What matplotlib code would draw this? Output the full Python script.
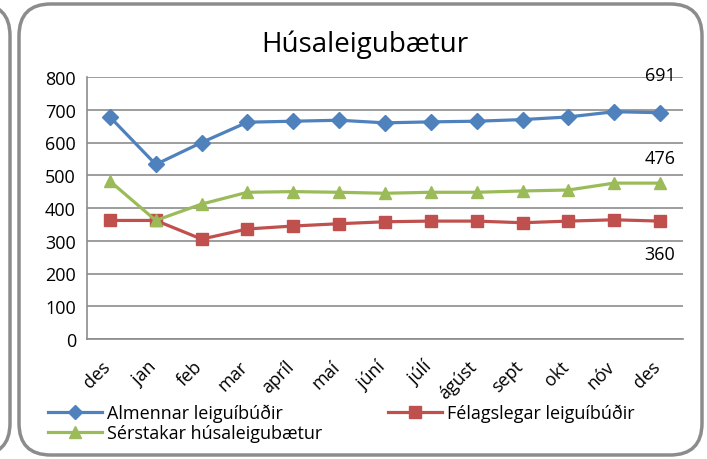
import numpy as np
import matplotlib.pyplot as plt
from matplotlib.patches import FancyBboxPatch
from matplotlib.lines import Line2D

# data
months = ['des', 'jan', 'feb', 'mar', 'apríl', 'maí', 'júní', 'júlí',
          'ágúst', 'sept', 'okt', 'nóv', 'des']
almennar = [678, 533, 600, 662, 665, 668, 660, 663, 665, 670, 678, 694, 691]
felagslegar = [362, 362, 305, 336, 345, 352, 358, 360, 360, 355, 360, 364, 360]
serstakar = [482, 362, 412, 448, 450, 448, 445, 448, 448, 452, 455, 476, 476]
series_names = ['Almennar leiguíbúðir', 'Félagslegar leiguíbúðir', 'Sérstakar húsaleigubætur']

FAM = 'Open Sans'
W, H = 707, 460
fig, ax = plt.subplots(figsize=(7.07, 4.6), dpi=100)
fig.subplots_adjust(left=87 / W, right=683 / W, top=1 - 78 / H, bottom=1 - 340 / H)

# rounded frames
frame = FancyBboxPatch((19 / W, 4 / H), 683 / W, 451 / H,
                       boxstyle='round,pad=0,rounding_size=0.045',
                       transform=fig.transFigure, fill=False,
                       ec='#8c8c8c', lw=2.5, mutation_aspect=W / H)
fig.patches.append(frame)
frame2 = FancyBboxPatch((-40 / W, 4 / H), 50 / W, 451 / H,
                        boxstyle='round,pad=0,rounding_size=0.045',
                        transform=fig.transFigure, fill=False,
                        ec='#8c8c8c', lw=2.5, mutation_aspect=W / H)
fig.patches.append(frame2)

x = np.arange(len(months))
blue, red, green = '#4F81BD', '#C0504D', '#9BBB59'
ax.plot(x, almennar, color=blue, lw=2.3, marker='D', ms=8, zorder=3)
ax.plot(x, felagslegar, color=red, lw=2.3, marker='s', ms=8, zorder=3)
ax.plot(x, serstakar, color=green, lw=2.3, marker='^', ms=9, zorder=3)

ax.set_xlim(-0.5, len(months) - 0.5)
ax.set_ylim(0, 800)
ax.set_yticks(range(0, 801, 100))
ax.set_yticklabels([str(v) for v in range(0, 801, 100)], family=FAM, fontsize=13)
ax.yaxis.grid(True, color='#8c8c8c', lw=1.2)
ax.set_axisbelow(True)
for s in ['top', 'right']:
    ax.spines[s].set_visible(False)
for s in ['left', 'bottom']:
    ax.spines[s].set_color('#8c8c8c')
    ax.spines[s].set_linewidth(1.2)
ax.tick_params(axis='y', length=0, pad=8)
ax.tick_params(axis='x', length=0)
ax.set_xticks(x)
ax.set_xticklabels([])

# month labels: rotated, centred first, then moved so the upper right
# corner sits just under the tick
month_txt = []
for xi, m in zip(x, months):
    t = ax.annotate(m, (xi, 0), xycoords=('data', 'axes fraction'),
                    xytext=(0, -20), textcoords='offset pixels',
                    rotation=45, ha='center', va='center',
                    family=FAM, fontsize=13, annotation_clip=False)
    month_txt.append(t)
fig.canvas.draw()
rend = fig.canvas.get_renderer()
for t in month_txt:
    bb = t.get_window_extent(rend)
    t.xyann = (4 - bb.width / 2, -18 - bb.height / 2)

# data labels
ax.annotate(str(almennar[-1]), (x[-1], almennar[-1]), xytext=(0, 27),
            textcoords='offset points', ha='center', va='center', fontsize=13, family=FAM)
ax.annotate(str(serstakar[-1]), (x[-1], serstakar[-1]), xytext=(0, 18),
            textcoords='offset points', ha='center', va='center', fontsize=13, family=FAM)
ax.annotate(str(felagslegar[-1]), (x[-1], felagslegar[-1]), xytext=(0, -24),
            textcoords='offset points', ha='center', va='center', fontsize=13, family=FAM)

fig.text(365 / W, 1 - 45 / H, 'Húsaleigubætur', ha='center', va='center',
         fontsize=20, family=FAM)

handles = [Line2D([], [], color=blue, lw=2.3, marker='D', ms=7),
           Line2D([], [], color=red, lw=2.3, marker='s', ms=8),
           Line2D([], [], color=green, lw=2.3, marker='^', ms=8)]
leg_font = {'family': FAM, 'size': 13}
fig.legend(handles[:1] + handles[2:], [series_names[0], series_names[2]],
           loc='upper left', bbox_to_anchor=(48 / W, 1 - 405 / H), frameon=False,
           prop=leg_font, handlelength=3.0, handletextpad=0.25, labelspacing=0.1,
           borderpad=0, borderaxespad=0)
fig.legend(handles[1:2], series_names[1:2],
           loc='upper left', bbox_to_anchor=(388 / W, 1 - 405 / H), frameon=False,
           prop=leg_font, handlelength=3.0, handletextpad=0.25,
           borderpad=0, borderaxespad=0)

fig.savefig('out.png', dpi=100)
